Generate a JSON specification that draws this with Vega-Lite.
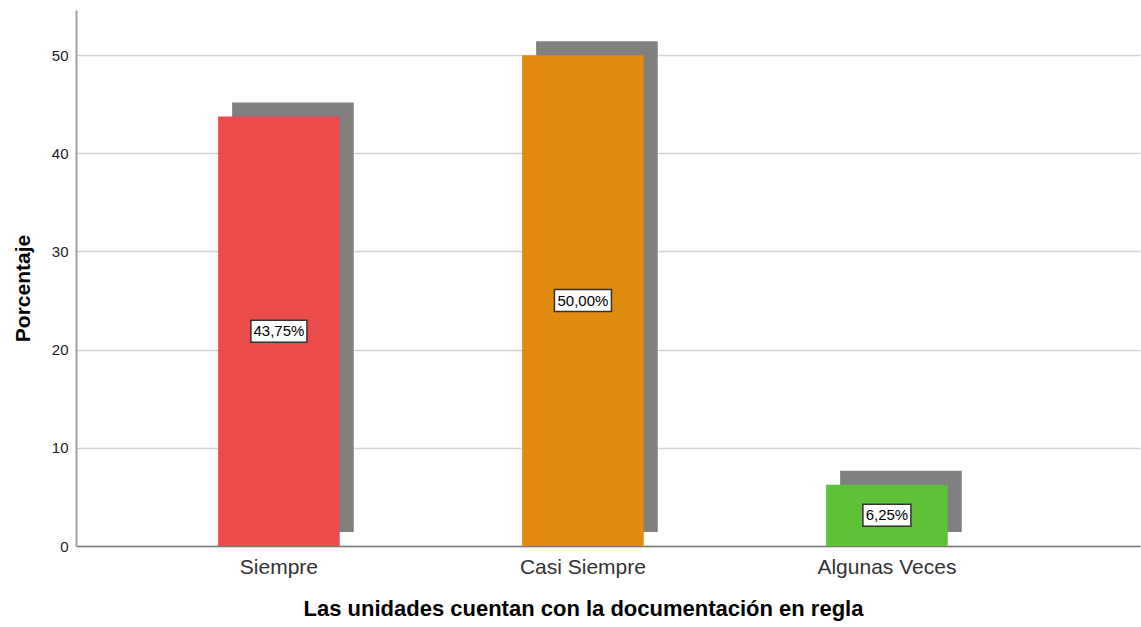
{
  "$schema": "https://vega.github.io/schema/vega-lite/v6.json",
  "width": 1064,
  "height": 536,
  "autosize": {"type": "none"},
  "padding": {"left": 76, "top": 10, "right": 1, "bottom": 81},
  "background": "white",
  "config": {
    "font": "Liberation Sans",
    "view": {"stroke": null}
  },
  "data": {
    "values": [
      {"categoria": "Siempre", "porcentaje": 43.75, "etiqueta": "43,75%"},
      {"categoria": "Casi Siempre", "porcentaje": 50.0, "etiqueta": "50,00%"},
      {"categoria": "Algunas Veces", "porcentaje": 6.25, "etiqueta": "6,25%"}
    ]
  },
  "encoding": {
    "x": {
      "field": "categoria",
      "type": "nominal",
      "sort": ["Siempre", "Casi Siempre", "Algunas Veces"],
      "scale": {"paddingInner": 0.6, "paddingOuter": 0.55, "align": 0.425},
      "axis": {
        "title": "Las unidades cuentan con la documentación en regla",
        "titleFont": "Liberation Sans",
        "titleFontSize": 22,
        "titleFontWeight": "bold",
        "titleColor": "#000000",
        "titleX": 507,
        "titlePadding": 21,
        "labelAngle": 0,
        "labelFont": "Liberation Sans",
        "labelFontSize": 21,
        "labelColor": "#333333",
        "labelPadding": 10,
        "ticks": false,
        "domainColor": "#7a7a7a",
        "domainWidth": 1.5,
        "grid": false
      }
    }
  },
  "layer": [
    {
      "mark": {"type": "bar", "color": "#808080", "xOffset": 14, "yOffset": -14},
      "encoding": {
        "y": {
          "field": "porcentaje",
          "type": "quantitative",
          "scale": {"domain": [0, 54.6], "nice": false},
          "axis": {
            "title": "Porcentaje",
            "titleFont": "Liberation Sans",
            "titleFontSize": 21,
            "titleFontWeight": "bold",
            "titleColor": "#000000",
            "titlePadding": 18,
            "titleY": 278,
            "values": [0, 10, 20, 30, 40, 50],
            "labelFont": "Liberation Sans",
            "labelFontSize": 15,
            "labelColor": "#222222",
            "labelPadding": 8,
            "ticks": false,
            "domainColor": "#a0a0a0",
            "domainWidth": 2,
            "grid": true,
            "gridColor": "#d4d4d4",
            "gridWidth": 1.5
          }
        }
      }
    },
    {
      "mark": {"type": "bar"},
      "encoding": {
        "y": {"field": "porcentaje", "type": "quantitative"},
        "color": {
          "field": "categoria",
          "type": "nominal",
          "scale": {
            "domain": ["Siempre", "Casi Siempre", "Algunas Veces"],
            "range": ["#EC4B4C", "#E08A10", "#5EC238"]
          },
          "legend": null
        }
      }
    },
    {
      "transform": [{"calculate": "datum.porcentaje / 2", "as": "medio"}],
      "mark": {"type": "point", "filled": true, "fill": "white", "stroke": "#333333", "strokeWidth": 1.5, "opacity": 1, "size": 400},
      "encoding": {
        "y": {"field": "medio", "type": "quantitative"},
        "shape": {
          "field": "etiqueta",
          "type": "nominal",
          "scale": {
            "domain": ["43,75%", "50,00%", "6,25%"],
            "range": ["M-2.8,-1.1H2.8V1.1H-2.8Z", "M-2.85,-1.1H2.85V1.1H-2.85Z", "M-2.4,-1.1H2.4V1.1H-2.4Z"]
          },
          "legend": null
        }
      }
    },
    {
      "transform": [{"calculate": "datum.porcentaje / 2", "as": "medio"}],
      "mark": {"type": "text", "font": "Liberation Sans", "fontSize": 15, "color": "#000000", "align": "center", "baseline": "middle"},
      "encoding": {
        "y": {"field": "medio", "type": "quantitative"},
        "text": {"field": "etiqueta"}
      }
    }
  ]
}
